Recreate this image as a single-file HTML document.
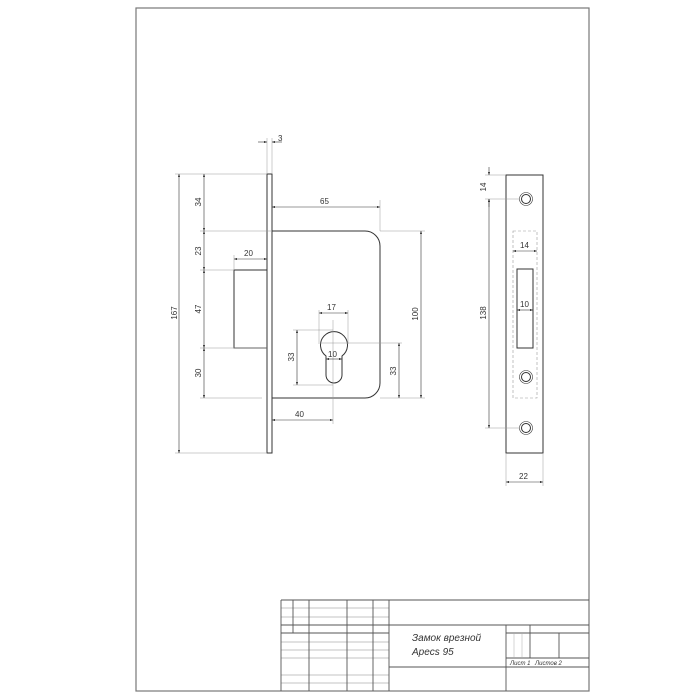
<!DOCTYPE html>
<html><head><meta charset="utf-8"><style>
html,body{margin:0;padding:0;background:#fff}
svg{display:block}
text{font-family:"Liberation Sans",sans-serif;font-size:8px;fill:#333}
</style></head><body>
<svg width="700" height="700" viewBox="0 0 700 700" xmlns="http://www.w3.org/2000/svg">
<defs>
<marker id="a" viewBox="0 0 8 6" refX="8" refY="3" markerWidth="5" markerHeight="4" orient="auto-start-reverse"><path d="M0,0L8,3L0,6z" fill="#333"/></marker>
</defs>
<!-- frame -->
<rect x="136" y="8" width="453" height="683" fill="none" stroke="#777" stroke-width="1.2"/>

<!-- title block -->
<g stroke="#888" stroke-width="0.6" fill="none">
<path d="M281 608H389M281 617H389M281 642H389M281 650H389M281 658H389M281 683H389M281 675H389"/>
</g>
<g stroke="#555" stroke-width="0.9" fill="none">
<path d="M281 600H589M281 625H589M281 633H389M389 667H589M506 633H589M506 658H589"/>
<path d="M281 600V691M293 600V633M309 600V691M347 600V691M373 600V691M389 600V691M506 625V691M530 625V658M559 633V658"/>
</g>
<g stroke="#aaa" stroke-width="0.5"><path d="M514 633V658M522 633V658"/></g>
<text x="412" y="641" style="font-size:10px;font-style:italic">Замок врезной</text>
<text x="412" y="655" style="font-size:10px;font-style:italic">Apecs 95</text>
<text x="510" y="665" style="font-size:6px;font-style:italic">Лист 1</text>
<text x="535" y="665" style="font-size:6px;font-style:italic">Листов 2</text>

<!-- lock body -->
<g stroke="#333" stroke-width="1" fill="none">
<rect x="267" y="174" width="5" height="279"/>
<path d="M272 231H365A15 15 0 0 1 380 246V383A15 15 0 0 1 365 398H272"/>
<path d="M267 270H234V348H267"/>
<path d="M326 356A13.5 13.5 0 1 1 342 356V375A8 8 0 0 1 326 375Z"/>
</g>
<!-- extension / center lines -->
<g stroke="#999" stroke-width="0.5" fill="none">
<path d="M267 138V174M272 138V174"/>
<path d="M175 174H267M175 453H267"/>
<path d="M200 231H272M200 270H234M200 348H267M200 398H262"/>
<path d="M380 200V231M380 231H425M380 398H425"/>
<path d="M234 255V270"/>
<path d="M333 320V424M319 310V344M348 310V344M293 330H333M293 385H333M320 343H402"/>
</g>
<!-- dims -->
<g stroke="#333" stroke-width="0.6" fill="none" marker-start="url(#a)" marker-end="url(#a)">
<path d="M179 174V453"/>
<path d="M204 174V231"/><path d="M204 231V270"/><path d="M204 270V348"/><path d="M204 348V398"/>
<path d="M272 207H380"/>
<path d="M234 259H267"/>
<path d="M421 231V398"/>
<path d="M399 343V398"/>
<path d="M297 330V385"/>
<path d="M319 313H348"/>
<path d="M326 359H342"/>
<path d="M272 420H333"/>
</g>
<g stroke="#333" stroke-width="0.6" fill="none">
<path d="M258 142H267" marker-end="url(#a)"/><path d="M282 142H272" marker-end="url(#a)"/>
</g>
<text x="278" y="141">3</text>
<text x="320" y="204">65</text>
<text x="244" y="256">20</text>
<text x="327" y="310">17</text>
<text x="328" y="357">10</text>
<text x="295" y="417">40</text>
<g text-anchor="middle">
<text transform="translate(177,313) rotate(-90)">167</text>
<text transform="translate(201,202) rotate(-90)">34</text>
<text transform="translate(201,251) rotate(-90)">23</text>
<text transform="translate(201,309) rotate(-90)">47</text>
<text transform="translate(201,373) rotate(-90)">30</text>
<text transform="translate(418,314) rotate(-90)">100</text>
<text transform="translate(396,371) rotate(-90)">33</text>
<text transform="translate(294,357) rotate(-90)">33</text>
</g>

<!-- strike plate -->
<g stroke="#333" stroke-width="1" fill="none">
<rect x="506" y="175" width="37" height="278"/>
<rect x="517" y="269" width="16" height="79"/>
<circle cx="526" cy="199" r="6.5" stroke-width="0.6"/><circle cx="526" cy="199" r="4.5"/>
<circle cx="526" cy="377" r="6.5" stroke-width="0.6"/><circle cx="526" cy="377" r="4.5"/>
<circle cx="526" cy="428" r="6.5" stroke-width="0.6"/><circle cx="526" cy="428" r="4.5"/>
</g>
<rect x="513" y="231" width="24" height="167" fill="none" stroke="#999" stroke-width="0.6" stroke-dasharray="3,2"/>
<g stroke="#999" stroke-width="0.5" fill="none">
<path d="M485 175H506M485 199H520M485 428H520M506 453V486M543 453V486"/>
</g>
<g stroke="#333" stroke-width="0.6" fill="none">
<path d="M489 167V175" marker-end="url(#a)"/><path d="M489 207V199" marker-end="url(#a)"/>
<path d="M489 199V428" marker-start="url(#a)" marker-end="url(#a)"/>
<path d="M513 251H537" marker-start="url(#a)" marker-end="url(#a)"/>
<path d="M517 310H533" marker-start="url(#a)" marker-end="url(#a)"/>
<path d="M506 482H543" marker-start="url(#a)" marker-end="url(#a)"/>
</g>
<text x="520" y="248">14</text>
<text x="520" y="307">10</text>
<text x="519" y="479">22</text>
<g text-anchor="middle">
<text transform="translate(486,187) rotate(-90)">14</text>
<text transform="translate(486,313) rotate(-90)">138</text>
</g>
</svg>
</body></html>
